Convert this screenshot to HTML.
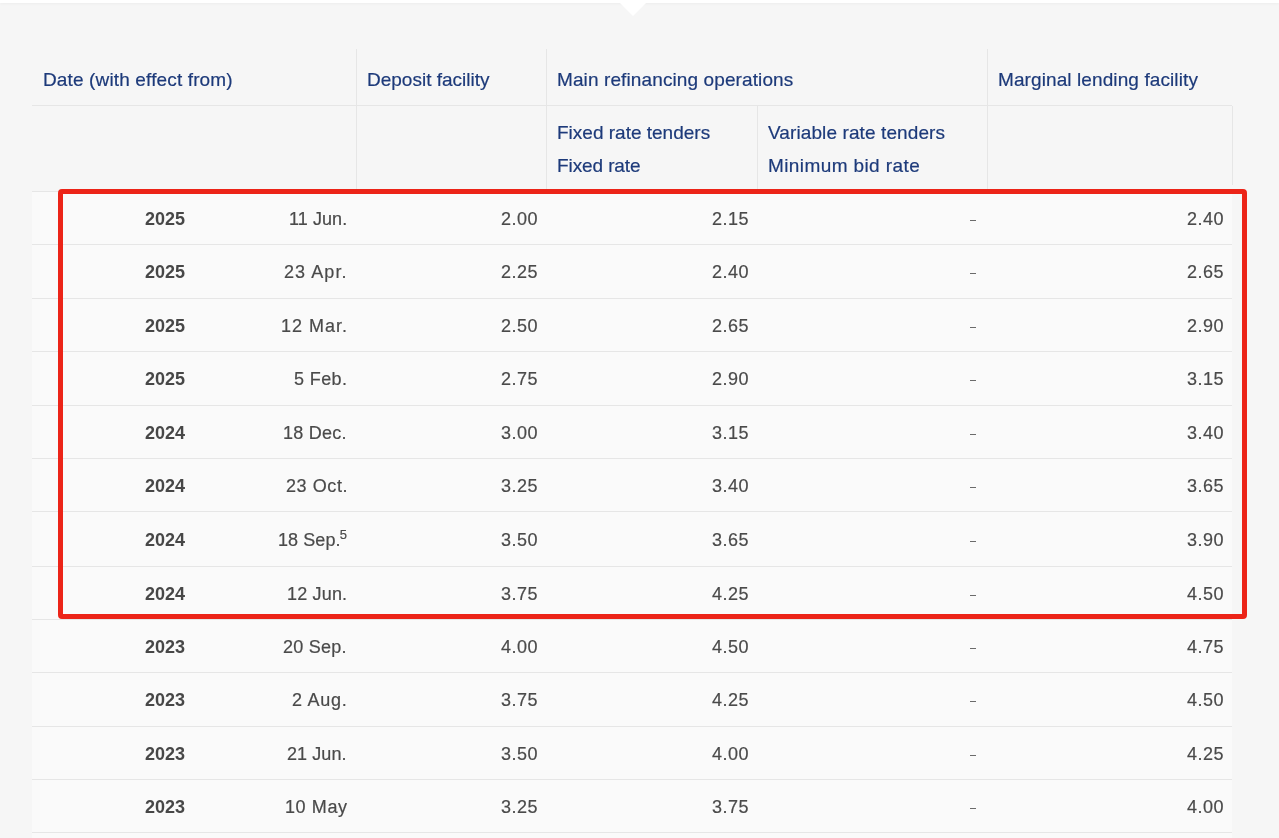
<!DOCTYPE html><html><head><meta charset="utf-8"><style>html,body{margin:0;padding:0}
body{width:1279px;height:838px;overflow:hidden;background:#f6f6f6;position:relative;font-family:"Liberation Sans",sans-serif}
.topbar{position:absolute;left:0;top:0;width:1279px;height:3px;background:#fff;box-shadow:0 1px 3px rgba(0,0,0,0.04)}
.notch{position:absolute;left:617px;top:0;width:0;height:0;border-left:16px solid transparent;border-right:16px solid transparent;border-top:16px solid #fff}
.hline{position:absolute;height:1px;background:#e6e6e6}
.vline{position:absolute;width:1px;background:#e6e6e6}
.ht{position:absolute;white-space:nowrap;font-size:19px;line-height:22px;color:#1d3a7a;-webkit-text-stroke:0.2px #1d3a7a;will-change:transform}
.row{position:absolute;left:32px;width:1200px;background:#fafafa}
.bt{position:absolute;white-space:nowrap;font-size:18px;line-height:22px;color:#4a4a4a;-webkit-text-stroke:0.2px #4a4a4a;will-change:transform}
.bt.b{font-weight:bold;color:#474747;-webkit-text-stroke:0}
sup{font-size:13px;line-height:0;vertical-align:7px;margin-left:-1px}
.redbox{position:absolute;left:58px;top:189px;width:1179px;height:420px;border:5px solid #ec2418;border-radius:4px}

.bt.n{letter-spacing:0.5px}

.dash{position:absolute;left:938px;width:6px;height:1px;background:#6a6a6a}
</style></head><body>
<div class="topbar"></div><div class="notch"></div>
<div class="hline" style="top:105px;left:32px;width:1200px"></div>
<div class="hline" style="top:191px;left:32px;width:1200px"></div>
<div class="vline" style="left:356px;top:49px;height:142px"></div>
<div class="vline" style="left:546px;top:49px;height:142px"></div>
<div class="vline" style="left:987px;top:49px;height:142px"></div>
<div class="vline" style="left:757px;top:106px;height:85px"></div>
<div class="vline" style="left:1232px;top:106px;height:79px"></div>
<div class="ht" style="left:43px;top:69px;letter-spacing:0.14px">Date (with effect from)</div>
<div class="ht" style="left:367px;top:69px;letter-spacing:0px">Deposit facility</div>
<div class="ht" style="left:557px;top:69px;letter-spacing:0.11px">Main refinancing operations</div>
<div class="ht" style="left:998px;top:69px;letter-spacing:0.1px">Marginal lending facility</div>
<div class="ht" style="left:557px;top:122px;letter-spacing:0px">Fixed rate tenders</div>
<div class="ht" style="left:768px;top:122px;letter-spacing:0.1px">Variable rate tenders</div>
<div class="ht" style="left:557px;top:155px;letter-spacing:-0.1px">Fixed rate</div>
<div class="ht" style="left:768px;top:155px;letter-spacing:0.4px">Minimum bid rate</div>
<div class="row" style="top:192px;height:52px">
<div class="bt b" style="right:1047px;top:16px">2025</div>
<div class="bt d" style="right:884.92px;top:16px;letter-spacing:0.08px">11 Jun.</div>
<div class="bt n" style="right:694px;top:16px">2.00</div>
<div class="bt n" style="right:483px;top:16px">2.15</div>
<div class="dash" style="top:28px"></div>
<div class="bt n" style="right:8px;top:16px">2.40</div>
</div>
<div class="hline" style="top:244px;left:32px;width:1200px"></div>
<div class="row" style="top:245px;height:53px">
<div class="bt b" style="right:1047px;top:16px">2025</div>
<div class="bt d" style="right:883.92px;top:16px;letter-spacing:1.08px">23 Apr.</div>
<div class="bt n" style="right:694px;top:16px">2.25</div>
<div class="bt n" style="right:483px;top:16px">2.40</div>
<div class="dash" style="top:28px"></div>
<div class="bt n" style="right:8px;top:16px">2.65</div>
</div>
<div class="hline" style="top:298px;left:32px;width:1200px"></div>
<div class="row" style="top:299px;height:52px">
<div class="bt b" style="right:1047px;top:16px">2025</div>
<div class="bt d" style="right:884.00px;top:16px;letter-spacing:1.00px">12 Mar.</div>
<div class="bt n" style="right:694px;top:16px">2.50</div>
<div class="bt n" style="right:483px;top:16px">2.65</div>
<div class="dash" style="top:28px"></div>
<div class="bt n" style="right:8px;top:16px">2.90</div>
</div>
<div class="hline" style="top:351px;left:32px;width:1200px"></div>
<div class="row" style="top:352px;height:53px">
<div class="bt b" style="right:1047px;top:16px">2025</div>
<div class="bt d" style="right:884.60px;top:16px;letter-spacing:0.40px">5 Feb.</div>
<div class="bt n" style="right:694px;top:16px">2.75</div>
<div class="bt n" style="right:483px;top:16px">2.90</div>
<div class="dash" style="top:28px"></div>
<div class="bt n" style="right:8px;top:16px">3.15</div>
</div>
<div class="hline" style="top:405px;left:32px;width:1200px"></div>
<div class="row" style="top:406px;height:52px">
<div class="bt b" style="right:1047px;top:16px">2024</div>
<div class="bt d" style="right:884.75px;top:16px;letter-spacing:0.25px">18 Dec.</div>
<div class="bt n" style="right:694px;top:16px">3.00</div>
<div class="bt n" style="right:483px;top:16px">3.15</div>
<div class="dash" style="top:28px"></div>
<div class="bt n" style="right:8px;top:16px">3.40</div>
</div>
<div class="hline" style="top:458px;left:32px;width:1200px"></div>
<div class="row" style="top:459px;height:52px">
<div class="bt b" style="right:1047px;top:16px">2024</div>
<div class="bt d" style="right:884.42px;top:16px;letter-spacing:0.58px">23 Oct.</div>
<div class="bt n" style="right:694px;top:16px">3.25</div>
<div class="bt n" style="right:483px;top:16px">3.40</div>
<div class="dash" style="top:28px"></div>
<div class="bt n" style="right:8px;top:16px">3.65</div>
</div>
<div class="hline" style="top:511px;left:32px;width:1200px"></div>
<div class="row" style="top:512px;height:54px">
<div class="bt b" style="right:1047px;top:17px">2024</div>
<div class="bt d" style="right:884.92px;top:17px;letter-spacing:0.08px">18 Sep.<sup>5</sup></div>
<div class="bt n" style="right:694px;top:17px">3.50</div>
<div class="bt n" style="right:483px;top:17px">3.65</div>
<div class="dash" style="top:29px"></div>
<div class="bt n" style="right:8px;top:17px">3.90</div>
</div>
<div class="hline" style="top:566px;left:32px;width:1200px"></div>
<div class="row" style="top:567px;height:52px">
<div class="bt b" style="right:1047px;top:16px">2024</div>
<div class="bt d" style="right:884.83px;top:16px;letter-spacing:0.17px">12 Jun.</div>
<div class="bt n" style="right:694px;top:16px">3.75</div>
<div class="bt n" style="right:483px;top:16px">4.25</div>
<div class="dash" style="top:28px"></div>
<div class="bt n" style="right:8px;top:16px">4.50</div>
</div>
<div class="hline" style="top:619px;left:32px;width:1200px"></div>
<div class="row" style="top:620px;height:52px">
<div class="bt b" style="right:1047px;top:16px">2023</div>
<div class="bt d" style="right:884.75px;top:16px;letter-spacing:0.25px">20 Sep.</div>
<div class="bt n" style="right:694px;top:16px">4.00</div>
<div class="bt n" style="right:483px;top:16px">4.50</div>
<div class="dash" style="top:28px"></div>
<div class="bt n" style="right:8px;top:16px">4.75</div>
</div>
<div class="hline" style="top:672px;left:32px;width:1200px"></div>
<div class="row" style="top:673px;height:53px">
<div class="bt b" style="right:1047px;top:16px">2023</div>
<div class="bt d" style="right:884.26px;top:16px;letter-spacing:0.74px">2 Aug.</div>
<div class="bt n" style="right:694px;top:16px">3.75</div>
<div class="bt n" style="right:483px;top:16px">4.25</div>
<div class="dash" style="top:28px"></div>
<div class="bt n" style="right:8px;top:16px">4.50</div>
</div>
<div class="hline" style="top:726px;left:32px;width:1200px"></div>
<div class="row" style="top:727px;height:52px">
<div class="bt b" style="right:1047px;top:16px">2023</div>
<div class="bt d" style="right:884.92px;top:16px;letter-spacing:0.08px">21 Jun.</div>
<div class="bt n" style="right:694px;top:16px">3.50</div>
<div class="bt n" style="right:483px;top:16px">4.00</div>
<div class="dash" style="top:28px"></div>
<div class="bt n" style="right:8px;top:16px">4.25</div>
</div>
<div class="hline" style="top:779px;left:32px;width:1200px"></div>
<div class="row" style="top:780px;height:52px">
<div class="bt b" style="right:1047px;top:16px">2023</div>
<div class="bt d" style="right:884.40px;top:16px;letter-spacing:0.60px">10 May</div>
<div class="bt n" style="right:694px;top:16px">3.25</div>
<div class="bt n" style="right:483px;top:16px">3.75</div>
<div class="dash" style="top:28px"></div>
<div class="bt n" style="right:8px;top:16px">4.00</div>
</div>
<div class="hline" style="top:832px;left:32px;width:1200px"></div>
<div class="row" style="top:833px;height:52px">
<div class="bt b" style="right:1047px;top:16px">2023</div>
<div class="bt d" style="right:884.50px;top:16px;letter-spacing:0.50px">16 Mar.</div>
<div class="bt n" style="right:694px;top:16px">3.00</div>
<div class="bt n" style="right:483px;top:16px">3.50</div>
<div class="dash" style="top:28px"></div>
<div class="bt n" style="right:8px;top:16px">3.75</div>
</div>
<div class="hline" style="top:885px;left:32px;width:1200px"></div>
<div class="redbox"></div>
</body></html>
